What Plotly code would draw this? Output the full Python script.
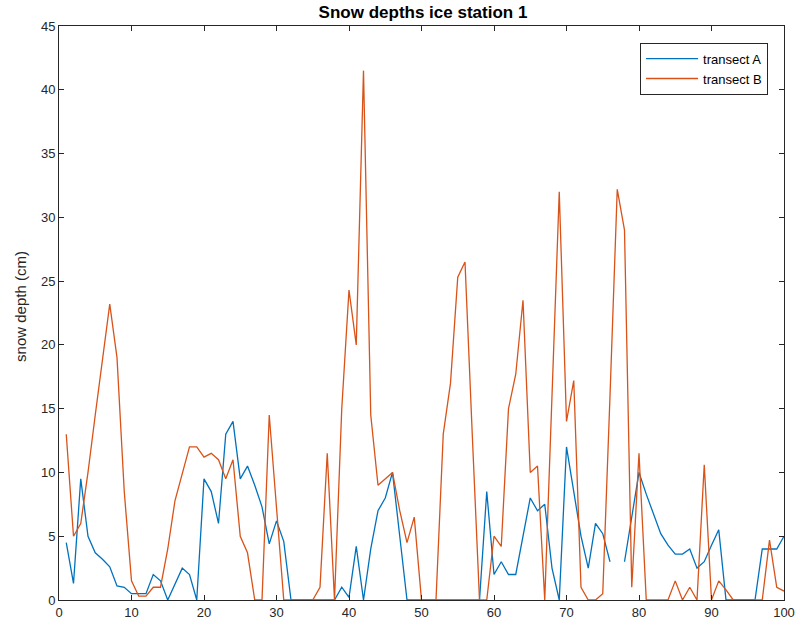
import plotly.graph_objects as go
import math

nan = float("nan")

distance = list(range(1, 101))

transect_a = [
    4.5, 1.3, 9.5, 5.0, 3.7, 3.2, 2.6, 1.1, 1.0, 0.5,
    0.5, 0.5, 2.0, 1.5, 0.0, 1.2, 2.5, 2.0, 0.0, 9.5,
    8.5, 6.0, 13.0, 14.0, 9.5, 10.5, 9.0, 7.3, 4.4, 6.2,
    4.6, 0.0, 0.0, 0.0, 0.0, 0.0, 0.0, 0.0, 1.0, 0.2,
    4.2, 0.0, 4.0, 7.0, 8.0, 10.0, 5.0, 0.0, 0.0, 0.0,
    0.0, 0.0, 0.0, 0.0, 0.0, 0.0, 0.0, 0.0, 8.5, 2.0,
    3.0, 2.0, 2.0, 5.0, 8.0, 7.0, 7.5, 2.5, 0.0, 12.0,
    8.5, 5.0, 2.5, 6.0, 5.2, 3.0, nan, 3.0, 6.5, 10.0,
    8.3, 6.8, 5.2, 4.3, 3.6, 3.6, 4.0, 2.5, 3.0, 4.3,
    5.5, 0.0, 0.0, 0.0, 0.0, 0.0, 4.0, 4.0, 4.0, 5.0,
]

transect_b = [
    13.0, 5.0, 6.0, 10.0, 14.5, 19.0, 23.2, 19.0, 8.5, 1.5,
    0.3, 0.3, 1.0, 1.0, 4.0, 7.8, 10.0, 12.0, 12.0, 11.2,
    11.5, 11.0, 9.5, 11.0, 5.0, 3.7, 0.0, 0.0, 14.5, 7.0,
    0.0, 0.0, 0.0, 0.0, 0.0, 1.0, 11.5, 0.0, 15.0, 24.3,
    20.0, 41.5, 14.5, 9.0, 9.5, 10.0, 7.0, 4.5, 6.5, 0.0,
    0.0, 0.0, 13.0, 17.0, 25.3, 26.5, 13.0, 0.0, 0.0, 5.0,
    4.2, 15.0, 17.7, 23.5, 10.0, 10.5, 0.0, 16.0, 32.0, 14.0,
    17.2, 1.0, 0.0, 0.0, 0.5, 16.0, 32.2, 29.0, 1.0, 11.5,
    0.0, 0.0, 0.0, 0.0, 1.5, 0.0, 1.0, 0.0, 10.6, 0.0,
    1.5, 0.8, 0.0, 0.0, 0.0, 0.0, 0.0, 4.7, 1.0, 0.7,
]

series_names = ["transect A", "transect B"]
series_colors = ["#0072BD", "#D95319"]

title_text = "Snow depths ice station 1"
y_title = "snow depth (cm)"
x_ticks = list(range(0, 101, 10))
y_ticks = list(range(0, 46, 5))

FONT = "Liberation Sans, Arial, sans-serif"

fig = go.Figure()
for name, vals, col in zip(series_names, [transect_a, transect_b], series_colors):
    fig.add_trace(go.Scatter(
        x=distance, y=[None if (isinstance(v, float) and math.isnan(v)) else v for v in vals],
        mode="lines", name=name, connectgaps=False,
        line=dict(color=col, width=1.3),
    ))

axis_common = dict(
    showline=True, linecolor="#262626", linewidth=1, mirror="ticks",
    ticks="inside", ticklen=5, tickcolor="#262626", tickwidth=1,
    showgrid=False, zeroline=False, automargin=False,
    tickfont=dict(family=FONT, size=13, color="#262626"),
)

fig.update_layout(
    width=799, height=623,
    margin=dict(l=59, r=15, t=26, b=23, autoexpand=False),
    paper_bgcolor="white", plot_bgcolor="white",
    title=dict(text="<b>" + title_text + "</b>", x=423 / 799, xanchor="center",
               y=1 - 12 / 623, yanchor="middle", yref="container",
               font=dict(family=FONT, size=17, color="black")),
    xaxis=dict(range=[0, 100], tickvals=x_ticks, **axis_common),
    yaxis=dict(range=[0, 45], tickvals=y_ticks, **axis_common),
    legend=dict(x=0.978, y=0.971, xanchor="right", yanchor="top",
                bgcolor="white", bordercolor="#262626", borderwidth=1,
                font=dict(family=FONT, size=13, color="black"),
                itemwidth=52, tracegroupgap=0),
    showlegend=True,
    annotations=[dict(text=y_title, textangle=-90, xref="paper", yref="paper",
                      x=-0.054, y=0.512, xanchor="center", yanchor="middle",
                      showarrow=False,
                      font=dict(family=FONT, size=15, color="#262626"))],
)

fig.write_html("out.html")
